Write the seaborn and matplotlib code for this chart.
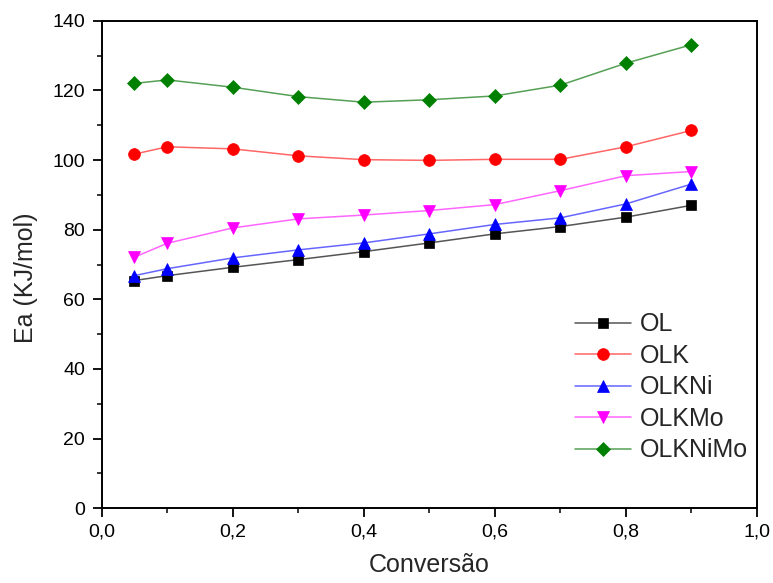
import numpy as np
import pandas as pd

import seaborn as sns
import matplotlib.pyplot as plt
from matplotlib.ticker import FuncFormatter, MultipleLocator

# data
conversao = [0.05, 0.1, 0.2, 0.3, 0.4, 0.5, 0.6, 0.7, 0.8, 0.9]
ol = [65.4, 66.8, 69.2, 71.4, 73.7, 76.2, 78.8, 80.9, 83.6, 87.0]
olk = [101.7, 103.8, 103.2, 101.2, 100.1, 99.9, 100.2, 100.2, 103.8, 108.5]
olkni = [66.8, 68.8, 71.9, 74.2, 76.2, 78.8, 81.5, 83.4, 87.4, 93.1]
olkmo = [72.1, 76.1, 80.5, 83.1, 84.2, 85.5, 87.2, 91.2, 95.5, 96.7]
olknimo = [122.0, 123.0, 120.9, 118.2, 116.6, 117.3, 118.4, 121.5, 127.8, 133.1]

series_names = ['OL', 'OLK', 'OLKNi', 'OLKMo', 'OLKNiMo']
series_values = [ol, olk, olkni, olkmo, olknimo]
colors = ['#000000', '#ff0000', '#0000ff', '#ff00ff', '#008000']
line_colors = ['#555555', '#ff6666', '#6666ff', '#ff66ff', '#55a055']
markers = ['s', 'o', '^', 'v', 'D']
marker_sizes = [7.5, 8.5, 9, 9, 7.5]


@FuncFormatter
def comma_fmt(x, pos):
    return f'{x:.1f}'.replace('.', ',')


df = pd.DataFrame({'Conversão': conversao})
for name, vals in zip(series_names, series_values):
    df[name] = vals

sns.set_style('ticks')
plt.rcParams['font.family'] = ['Liberation Sans', 'DejaVu Sans']

fig = plt.figure(figsize=(7.73, 5.83), dpi=100)
ax = fig.add_axes([0.1316, 0.1281, 0.8477, 0.8364])

for name, c, lc, m, ms in zip(series_names, colors, line_colors, markers, marker_sizes):
    sns.lineplot(
        data=df, x='Conversão', y=name, ax=ax,
        color=lc, linewidth=1.1, marker=m, markersize=ms,
        markerfacecolor=c, markeredgecolor=c, markeredgewidth=0.5,
        label=name,
    )

ax.set_xlim(0, 1.0)
ax.set_ylim(0, 140)
ax.xaxis.set_major_locator(MultipleLocator(0.2))
ax.xaxis.set_minor_locator(MultipleLocator(0.1))
ax.yaxis.set_major_locator(MultipleLocator(20))
ax.yaxis.set_minor_locator(MultipleLocator(10))
ax.xaxis.set_major_formatter(comma_fmt)

ax.tick_params(which='major', direction='out', length=6.5, width=1.3, labelsize=14, colors='#000000')
ax.tick_params(axis='x', which='major', pad=4.5)
ax.tick_params(axis='y', which='major', pad=5.5)
ax.tick_params(which='minor', direction='out', length=3.5, width=1.3)
for sp in ax.spines.values():
    sp.set_linewidth(1.4)
    sp.set_color('#000000')

ax.set_xlabel('Conversão', fontsize=18, labelpad=9)
ax.set_ylabel('Ea (KJ/mol)', fontsize=18)
ax.yaxis.set_label_coords(-0.098, 0.472)

ax.legend(
    loc='lower left', bbox_to_anchor=(0.722, 0.094), frameon=False,
    fontsize=18, handlelength=2.24, labelspacing=0.3, handletextpad=0.36,
    borderpad=0, borderaxespad=0,
)

fig.savefig('out.png', dpi=100)
